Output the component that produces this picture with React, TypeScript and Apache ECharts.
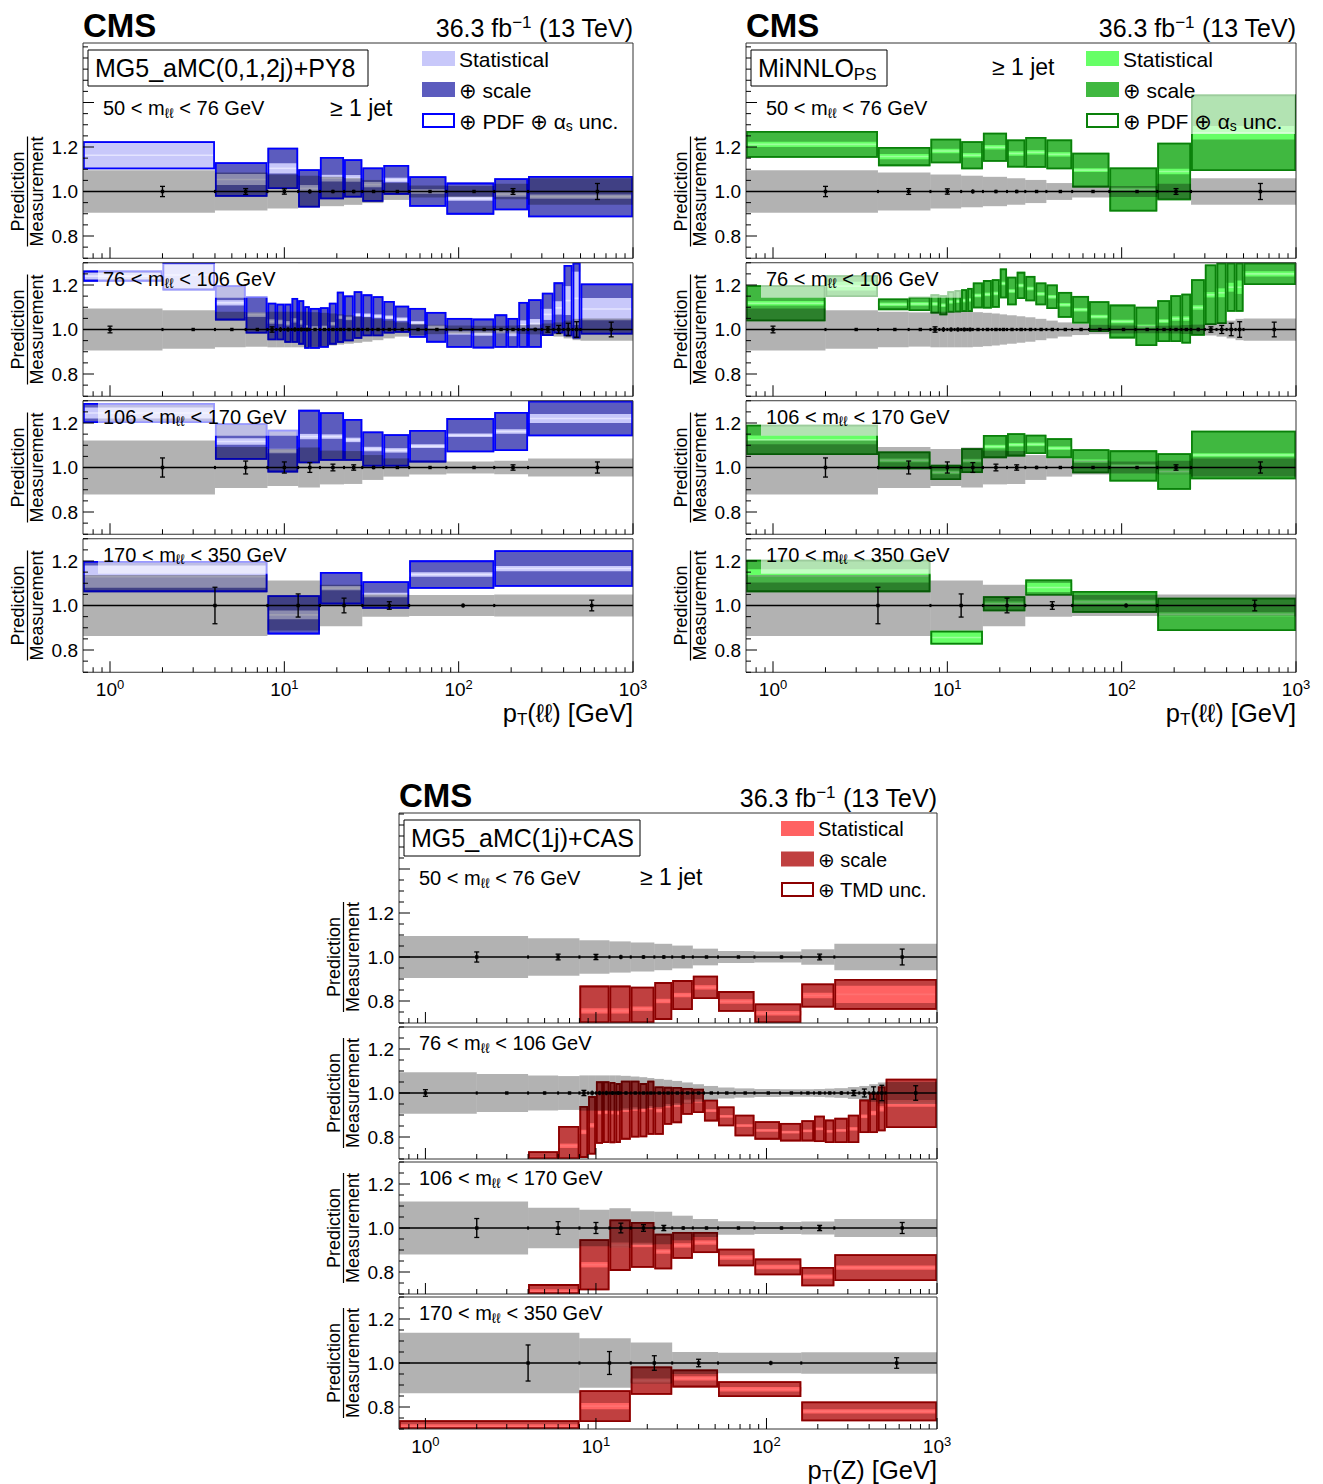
import React, { useEffect, useRef } from "react";
import * as echarts from "echarts";

const XMIN = 0.7;
const XMAX = 1000;
const YMIN = 0.7;

// ---------- bin edges (GeV) per mass window ----------
const edgesM1 = [0, 4, 8, 12, 16, 22, 28, 37, 52, 85, 160, 250, 1000];
const edgesM2 = [0, 2, 4, 6, 8, 9, 10, 11, 12, 13, 14, 16, 18, 20, 22, 25, 28, 32, 37, 43, 52, 65, 85, 120, 160, 190, 220, 250, 300, 350, 400, 450, 500, 1000];
const edgesM3 = [0, 4, 8, 12, 16, 22, 28, 37, 52, 85, 160, 250, 1000];
const edgesM4 = [0, 8, 16, 28, 52, 160, 1000];

// ---------- measurement: total uncertainty (grey band) and data error bar ----------
const measUncM1 = [0.095, 0.085, 0.076, 0.071, 0.066, 0.060, 0.052, 0.038, 0.027, 0.025, 0.035, 0.060];
const dataErrM1 = [0.023, 0.013, 0.012, 0.010, 0.008, 0.008, 0.006, 0.005, 0.004, 0.006, 0.013, 0.036];
const measUncM2 = [0.094, 0.086, 0.080, 0.077, 0.080, 0.080, 0.080, 0.080, 0.080, 0.080, 0.078, 0.075, 0.072, 0.068, 0.064, 0.060, 0.055, 0.048, 0.040, 0.032, 0.025, 0.021, 0.018, 0.017, 0.017, 0.018, 0.020, 0.022, 0.027, 0.032, 0.040, 0.048, 0.050];
const dataErrM2 = [0.015, 0.005, 0.006, 0.005, 0.012, 0.011, 0.010, 0.010, 0.009, 0.009, 0.007, 0.006, 0.005, 0.005, 0.004, 0.004, 0.004, 0.003, 0.003, 0.003, 0.003, 0.003, 0.003, 0.003, 0.004, 0.005, 0.006, 0.008, 0.012, 0.018, 0.028, 0.035, 0.033];
const measUncM3 = [0.121, 0.092, 0.083, 0.090, 0.076, 0.074, 0.056, 0.041, 0.031, 0.027, 0.030, 0.041];
const dataErrM3 = [0.043, 0.029, 0.025, 0.022, 0.015, 0.012, 0.008, 0.006, 0.005, 0.006, 0.012, 0.025];
const measUncM4 = [0.137, 0.112, 0.093, 0.050, 0.047, 0.049];
const dataErrM4 = [0.082, 0.052, 0.033, 0.017, 0.010, 0.024];

// ---------- MG5_aMC(0,1,2j)+PY8 : central, stat, total half-width ----------
const mgCentM1 = [1.163, 1.054, 1.104, 1.014, 1.060, 1.059, 1.031, 1.052, 1.000, 0.968, 0.988, 0.977];
const mgStatM1 = [0.060, 0.025, 0.023, 0.015, 0.015, 0.015, 0.012, 0.010, 0.010, 0.010, 0.012, 0.010];
const mgTotM1 = [0.063, 0.078, 0.093, 0.086, 0.095, 0.086, 0.077, 0.067, 0.069, 0.072, 0.072, 0.093];
const mgCentM2 = [1.240, 1.245, 1.120, 1.066, 1.036, 1.034, 1.028, 1.041, 1.032, 1.009, 1.005, 1.009, 1.026, 1.055, 1.050, 1.065, 1.064, 1.060, 1.055, 1.046, 1.030, 1.010, 0.985, 0.982, 0.993, 0.985, 1.021, 1.027, 1.068, 1.097, 1.130, 1.140, 1.092];
const mgStatM2 = [0.015, 0.060, 0.012, 0.010, 0.010, 0.010, 0.010, 0.010, 0.010, 0.010, 0.010, 0.008, 0.008, 0.008, 0.008, 0.008, 0.008, 0.008, 0.008, 0.008, 0.008, 0.008, 0.008, 0.010, 0.010, 0.015, 0.020, 0.020, 0.025, 0.030, 0.065, 0.120, 0.050];
const mgTotM2 = [0.025, 0.070, 0.079, 0.084, 0.084, 0.082, 0.088, 0.101, 0.100, 0.096, 0.092, 0.091, 0.094, 0.115, 0.103, 0.107, 0.094, 0.090, 0.073, 0.061, 0.067, 0.069, 0.067, 0.067, 0.075, 0.067, 0.103, 0.109, 0.097, 0.115, 0.160, 0.180, 0.115];
const mgCentM3 = [1.245, 1.117, 1.074, 1.139, 1.139, 1.124, 1.083, 1.077, 1.096, 1.145, 1.162, 1.220];
const mgStatM3 = [0.025, 0.015, 0.010, 0.012, 0.010, 0.010, 0.010, 0.010, 0.008, 0.008, 0.010, 0.020];
const mgTotM3 = [0.045, 0.082, 0.096, 0.120, 0.109, 0.094, 0.079, 0.073, 0.073, 0.077, 0.088, 0.080];
const mgCentM4 = [1.130, 0.958, 1.078, 1.047, 1.139, 1.166];
const mgStatM4 = [0.050, 0.020, 0.010, 0.010, 0.010, 0.012];
const mgTotM4 = [0.070, 0.088, 0.073, 0.062, 0.064, 0.082];

// ---------- MiNNLO_PS ----------
const miCentM1 = [1.212, 1.157, 1.182, 1.163, 1.199, 1.171, 1.176, 1.167, 1.096, 1.009, 1.090, 1.264];
const miStatM1 = [0.012, 0.012, 0.010, 0.010, 0.010, 0.010, 0.010, 0.010, 0.008, 0.008, 0.012, 0.030];
const miTotM1 = [0.060, 0.043, 0.055, 0.063, 0.065, 0.063, 0.069, 0.067, 0.078, 0.099, 0.129, 0.172];
const miCentM2 = [1.118, 1.195, 1.113, 1.115, 1.115, 1.109, 1.124, 1.127, 1.130, 1.133, 1.153, 1.158, 1.162, 1.207, 1.173, 1.198, 1.184, 1.160, 1.147, 1.111, 1.089, 1.058, 1.036, 1.014, 1.038, 1.049, 1.049, 1.099, 1.156, 1.165, 1.190, 1.190, 1.250];
const miStatM2 = [0.010, 0.020, 0.008, 0.008, 0.008, 0.008, 0.008, 0.008, 0.008, 0.008, 0.008, 0.008, 0.008, 0.008, 0.008, 0.008, 0.008, 0.008, 0.008, 0.008, 0.008, 0.008, 0.008, 0.008, 0.008, 0.010, 0.010, 0.010, 0.012, 0.020, 0.020, 0.030, 0.012];
const miTotM2 = [0.081, 0.049, 0.026, 0.032, 0.043, 0.045, 0.048, 0.050, 0.051, 0.054, 0.058, 0.064, 0.064, 0.067, 0.064, 0.061, 0.057, 0.051, 0.055, 0.058, 0.062, 0.069, 0.076, 0.088, 0.094, 0.105, 0.112, 0.127, 0.136, 0.140, 0.110, 0.110, 0.050];
const miCentM3 = [1.124, 1.032, 0.978, 1.031, 1.094, 1.102, 1.104, 1.087, 1.028, 1.007, 0.982, 1.056];
const miStatM3 = [0.020, 0.008, 0.008, 0.008, 0.008, 0.008, 0.008, 0.008, 0.008, 0.008, 0.010, 0.008];
const miTotM3 = [0.068, 0.040, 0.034, 0.056, 0.052, 0.052, 0.043, 0.045, 0.054, 0.070, 0.082, 0.109];
const miCentM4 = [1.133, 0.856, 1.008, 1.081, 1.016, 0.960];
const miStatM4 = [0.030, 0.030, 0.010, 0.020, 0.010, 0.010];
const miTotM4 = [0.073, 0.031, 0.034, 0.036, 0.049, 0.075];

// ---------- MG5_aMC(1j)+CAS ----------
const casCentM1 = [0.550, 0.600, 0.755, 0.755, 0.765, 0.800, 0.827, 0.862, 0.798, 0.744, 0.825, 0.830];
const casStatM1 = [0.012, 0.012, 0.012, 0.012, 0.010, 0.010, 0.010, 0.010, 0.010, 0.010, 0.012, 0.039];
const casTotM1 = [0.050, 0.050, 0.115, 0.115, 0.100, 0.086, 0.068, 0.053, 0.047, 0.045, 0.055, 0.070];
const casCentM2 = [0.500, 0.500, 0.700, 0.760, 0.823, 0.853, 0.911, 0.913, 0.911, 0.909, 0.922, 0.927, 0.922, 0.933, 0.920, 0.942, 0.945, 0.962, 0.964, 0.920, 0.894, 0.852, 0.830, 0.822, 0.828, 0.837, 0.826, 0.830, 0.837, 0.894, 0.909, 0.928, 0.953];
const casStatM2 = [0.010, 0.010, 0.010, 0.010, 0.010, 0.010, 0.008, 0.008, 0.008, 0.008, 0.008, 0.008, 0.008, 0.008, 0.008, 0.008, 0.008, 0.008, 0.008, 0.006, 0.006, 0.006, 0.006, 0.006, 0.006, 0.006, 0.006, 0.006, 0.008, 0.008, 0.010, 0.012, 0.015];
const casTotM2 = [0.050, 0.050, 0.035, 0.090, 0.118, 0.133, 0.142, 0.140, 0.139, 0.136, 0.134, 0.129, 0.123, 0.123, 0.110, 0.086, 0.082, 0.061, 0.055, 0.049, 0.045, 0.049, 0.042, 0.042, 0.048, 0.060, 0.053, 0.057, 0.064, 0.076, 0.091, 0.102, 0.112];
const casCentM3 = [0.500, 0.710, 0.833, 0.922, 0.923, 0.893, 0.921, 0.934, 0.866, 0.823, 0.779, 0.820];
const casStatM3 = [0.012, 0.012, 0.012, 0.012, 0.010, 0.010, 0.010, 0.010, 0.010, 0.010, 0.010, 0.010];
const casTotM3 = [0.050, 0.035, 0.116, 0.117, 0.104, 0.081, 0.061, 0.048, 0.040, 0.038, 0.044, 0.061];
const casCentM4 = [0.710, 0.804, 0.920, 0.930, 0.881, 0.780];
const casStatM4 = [0.012, 0.014, 0.010, 0.010, 0.010, 0.010];
const casTotM4 = [0.030, 0.072, 0.064, 0.041, 0.036, 0.045];

const massLabels = ["50 < m", "76 < m", "106 < m", "170 < m"];
const massLabelsHi = [" < 76 GeV", " < 106 GeV", " < 170 GeV", " < 350 GeV"];

const EDGES = [edgesM1, edgesM2, edgesM3, edgesM4];
const MEAS = [measUncM1, measUncM2, measUncM3, measUncM4];
const DERR = [dataErrM1, dataErrM2, dataErrM3, dataErrM4];

const GENS = [
  {
    label: "{n|MG5_aMC(0,1,2j)+PY8}", boxW: 280,
    cent: [mgCentM1, mgCentM2, mgCentM3, mgCentM4], stat: [mgStatM1, mgStatM2, mgStatM3, mgStatM4], tot: [mgTotM1, mgTotM2, mgTotM3, mgTotM4],
    col: { stat: "#c8c8fa", scale: "#5c5cbe", edge: "#0000ff", line: "#e4e4ff" },
    leg3: "{n|⊕ PDF ⊕ α}{b|s}{n| unc.}",
  },
  {
    label: "{n|MiNNLO}{b|PS}", boxW: 136,
    cent: [miCentM1, miCentM2, miCentM3, miCentM4], stat: [miStatM1, miStatM2, miStatM3, miStatM4], tot: [miTotM1, miTotM2, miTotM3, miTotM4],
    col: { stat: "#66ff66", scale: "#40b840", edge: "#0a800a", line: "#9cff9c" },
    leg3: "{n|⊕ PDF ⊕ α}{b|s}{n| unc.}",
  },
  {
    label: "{n|MG5_aMC(1j)+CAS}", boxW: 236,
    cent: [casCentM1, casCentM2, casCentM3, casCentM4], stat: [casStatM1, casStatM2, casStatM3, casStatM4], tot: [casTotM1, casTotM2, casTotM3, casTotM4],
    col: { stat: "#ff6262", scale: "#c04040", edge: "#8b0000", line: "#ff7070" },
    leg3: "{n|⊕ TMD unc.}",
  },
];

const PANELS = [
  { left: 83, width: 550, top1: 43, bottoms: [258.25, 396.25, 534.25, 672.25], ppu: 222.5, legX: 422, legDy: 31, legFs: 21, jetX: 330, jetY: 108, xTitle: "{n|p}{b|T}{n|(ℓℓ) [GeV]}" },
  { left: 746, width: 550, top1: 43, bottoms: [258.25, 396.25, 534.25, 672.25], ppu: 222.5, legX: 1086, legDy: 31, legFs: 21, jetX: 992, jetY: 67, xTitle: "{n|p}{b|T}{n|(ℓℓ) [GeV]}" },
  { left: 399, width: 538, top1: 813, bottoms: [1023, 1159, 1294, 1429], ppu: 220, legX: 781, legDy: 30.5, legFs: 20, jetX: 640, jetY: 877, xTitle: "{n|p}{b|T}{n|(Z) [GeV]}" },
];

const FF = "'Liberation Sans', Arial, Helvetica, 'DejaVu Sans', sans-serif";

function rich(size: number) {
  const s = Math.round(size * 0.68);
  return {
    n: { fontSize: size, fontFamily: FF, lineHeight: Math.round(size * 1.15), verticalAlign: "middle", fill: "#000", color: "#000" },
    b: { fontSize: s, fontFamily: FF, lineHeight: Math.round(size * 0.6), verticalAlign: "bottom", fill: "#000", color: "#000" },
    p: { fontSize: s, fontFamily: FF, lineHeight: Math.round(size * 0.6), verticalAlign: "top", fill: "#000", color: "#000" },
  };
}

function T(x: number, y: number, text: string, size: number, o: any = {}) {
  return {
    type: "text", x, y, z: 101, rotation: o.rot || 0, silent: true,
    style: {
      text, fontSize: size, fontFamily: FF, fontWeight: o.bold ? "bold" : "normal",
      fill: "#000", textAlign: o.align || "left", verticalAlign: "middle", textVerticalAlign: "middle",
      rich: o.rich ? rich(size) : undefined,
    },
  };
}

function clipBox(cs: any) {
  return { x: cs.x, y: cs.y, width: cs.width, height: cs.height };
}

function renderPred(col: any) {
  return (params: any, api: any) => {
    const cs = params.coordSys;
    const box = clipBox(cs);
    const lo = Math.max(api.value(0), XMIN);
    const hi = api.value(1);
    const c = api.value(2), s = api.value(3), t = api.value(4);
    const rr = (a: number, b: number) => {
      const p1 = api.coord([lo, b]);
      const p2 = api.coord([hi, a]);
      return echarts.graphic.clipRectByRect({ x: p1[0], y: p1[1], width: p2[0] - p1[0], height: p2[1] - p1[1] }, box);
    };
    const ch: any[] = [];
    const tr: any = rr(c - t, c + t);
    if (!tr || tr.height < 0.5) return { type: "group", children: [] };
    ch.push({ type: "rect", shape: tr, style: { fill: col.scale } });
    const sr: any = rr(c - s, c + s);
    if (sr && sr.height > 0) ch.push({ type: "rect", shape: sr, style: { fill: col.stat } });
    const yc = api.coord([lo, c])[1];
    if (yc > cs.y + 1 && yc < cs.y + cs.height - 1) {
      ch.push({ type: "line", shape: { x1: tr.x + 1, y1: yc, x2: tr.x + tr.width - 1, y2: yc }, style: { stroke: col.line, lineWidth: 1.6 } });
    }
    ch.push({ type: "rect", shape: { x: tr.x + 0.9, y: tr.y + 0.9, width: Math.max(tr.width - 1.8, 0), height: Math.max(tr.height - 1.8, 0) }, style: { fill: "none", stroke: col.edge, lineWidth: 1.8 } });
    return { type: "group", children: ch };
  };
}

function renderMeas(params: any, api: any) {
  const cs = params.coordSys;
  const lo = Math.max(api.value(0), XMIN), hi = api.value(1), u = api.value(4);
  const p1 = api.coord([lo, 1 + u]);
  const p2 = api.coord([hi, 1 - u]);
  const r = echarts.graphic.clipRectByRect({ x: p1[0], y: p1[1], width: p2[0] - p1[0], height: p2[1] - p1[1] }, clipBox(cs));
  if (!r) return { type: "group", children: [] };
  return { type: "rect", shape: r, style: { fill: "rgba(0,0,0,0.3)" } };
}

function renderData(params: any, api: any) {
  const lo = api.value(0), xc = api.value(2), e = api.value(5);
  const pc = api.coord([xc, 1]);
  const pt = api.coord([xc, 1 + e]);
  const pb = api.coord([xc, 1 - e]);
  const ch: any[] = [
    { type: "line", shape: { x1: pc[0], y1: pt[1], x2: pc[0], y2: pb[1] }, style: { stroke: "#000", lineWidth: 1.4 } },
    { type: "rect", shape: { x: pc[0] - 1.7, y: pc[1] - 1.7, width: 3.4, height: 3.4 }, style: { fill: "#000" } },
  ];
  if (pb[1] - pt[1] > 5) {
    ch.push({ type: "line", shape: { x1: pc[0] - 2.5, y1: pt[1], x2: pc[0] + 2.5, y2: pt[1] }, style: { stroke: "#000", lineWidth: 1.3 } });
    ch.push({ type: "line", shape: { x1: pc[0] - 2.5, y1: pb[1], x2: pc[0] + 2.5, y2: pb[1] }, style: { stroke: "#000", lineWidth: 1.3 } });
  }
  if (lo > 0) {
    const pe = api.coord([lo, 1]);
    ch.push({ type: "rect", shape: { x: pe[0] - 1, y: pe[1] - 1.6, width: 2, height: 3.2 }, style: { fill: "#000" } });
  }
  return { type: "group", children: ch };
}

function renderTicks(params: any, api: any) {
  const cs = params.coordSys;
  const kind = api.value(0);
  if (kind === 0) {
    const y1 = api.coord([1, 1])[1];
    return {
      type: "group", children: [
        { type: "line", shape: { x1: cs.x, y1, x2: cs.x + cs.width, y2: y1 }, style: { stroke: "#000", lineWidth: 1.3 } },
        { type: "rect", shape: { x: cs.x, y: cs.y, width: cs.width, height: cs.height }, style: { fill: "none", stroke: "#333", lineWidth: 1 } },
      ],
    };
  }
  if (kind === 1 || kind === 2) {
    const y = api.coord([1, api.value(2)])[1];
    const len = kind === 2 ? 11 : 5;
    return { type: "line", shape: { x1: cs.x, y1: y, x2: cs.x + len, y2: y }, style: { stroke: "#000", lineWidth: 1 } };
  }
  const x = api.coord([api.value(1), 1])[0];
  const len = kind === 4 ? 11 : 5;
  const b = cs.y + cs.height;
  return { type: "line", shape: { x1: x, y1: b, x2: x, y2: b - len }, style: { stroke: "#000", lineWidth: 1 } };
}

function buildOption() {
  const grid: any[] = [], xAxis: any[] = [], yAxis: any[] = [], series: any[] = [], els: any[] = [];

  PANELS.forEach((p, pi) => {
    const g = GENS[pi];
    const L = p.left, R = p.left + p.width, T0 = p.top1;

    for (let m = 0; m < 4; m++) {
      const gi = grid.length;
      const bottom = p.bottoms[m];
      const top = m === 0 ? T0 : bottom - 0.6 * p.ppu;
      const ymax = m === 0 ? YMIN + (bottom - T0) / p.ppu : 1.3;
      grid.push({ left: L, top, width: p.width, height: bottom - top });
      xAxis.push({
        type: "log", logBase: 10, min: XMIN, max: XMAX, gridIndex: gi,
        axisLine: { show: false }, axisTick: { show: false }, splitLine: { show: false },
        axisLabel: {
          show: m === 3, margin: 6, color: "#000",
          formatter: (v: number) => {
            const l = Math.log10(v);
            const e = Math.round(l);
            return Math.abs(l - e) < 1e-6 ? `{b|10}{s|${e}}` : "";
          },
          rich: {
            b: { fontSize: 19, fontFamily: FF, color: "#000", lineHeight: 22, verticalAlign: "middle" },
            s: { fontSize: 13, fontFamily: FF, color: "#000", lineHeight: 12, verticalAlign: "top" },
          },
        },
      });
      yAxis.push({
        type: "value", min: YMIN, max: ymax, interval: 0.05, gridIndex: gi,
        axisLine: { show: false }, axisTick: { show: false }, splitLine: { show: false },
        axisLabel: {
          margin: 5, fontSize: 19, fontFamily: FF, color: "#000",
          formatter: (v: number) => {
            const r = Math.round(v * 100) / 100;
            return r === 0.8 || r === 1 || r === 1.2 ? r.toFixed(1) : "";
          },
        },
      });

      const edges = EDGES[m];
      const predData = g.cent[m].map((c, i) => [edges[i], edges[i + 1], c, g.stat[m][i], g.tot[m][i]]);
      const measData = MEAS[m].map((u, i) => [edges[i], edges[i + 1], (edges[i] + edges[i + 1]) / 2, 1, u, DERR[m][i]]);
      const tickData: number[][] = [[0, 1, 1]];
      for (let k = 14; k * 0.05 <= ymax + 1e-9; k++) {
        const v = Math.round(k * 5) / 100;
        const major = Math.abs(v * 5 - Math.round(v * 5)) < 1e-6;
        tickData.push([major ? 2 : 1, 1, v]);
      }
      for (let d = -1; d <= 3; d++) {
        for (let k = 1; k <= 9; k++) {
          const v = k * Math.pow(10, d);
          if (v > XMIN * 1.0001 && v < XMAX * 1.0001) tickData.push([k === 1 ? 4 : 3, v, 1]);
        }
      }

      series.push({ type: "custom", xAxisIndex: gi, yAxisIndex: gi, z: 2, silent: true, renderItem: renderPred(g.col), data: predData, encode: { x: 1, y: 2 } });
      series.push({ type: "custom", xAxisIndex: gi, yAxisIndex: gi, z: 3, silent: true, renderItem: renderMeas, data: measData, encode: { x: 2, y: 3 } });
      series.push({ type: "custom", xAxisIndex: gi, yAxisIndex: gi, z: 4, silent: true, renderItem: renderData, data: measData, encode: { x: 2, y: 3 } });
      series.push({ type: "custom", xAxisIndex: gi, yAxisIndex: gi, z: 5, silent: true, renderItem: renderTicks, data: tickData, encode: { x: 1, y: 2 } });

      // y-axis title (fraction)
      const yc = bottom - 0.3 * p.ppu;
      els.push(T(L - 65, yc, "Prediction", 18, { rot: Math.PI / 2, align: "center" }));
      els.push(T(L - 46, yc, "Measurement", 18, { rot: Math.PI / 2, align: "center" }));
      els.push({ type: "line", z: 101, silent: true, shape: { x1: L - 55.5, y1: yc - 55, x2: L - 55.5, y2: yc + 55 }, style: { stroke: "#000", lineWidth: 1.2 } });

      const mlab = `{n|${massLabels[m]}}{b|ℓℓ}{n|${massLabelsHi[m]}}`;
      if (m === 0) {
        els.push(T(L + 20, T0 + 65, mlab, 20, { rich: true }));
      } else {
        els.push({ type: "rect", z: 100, silent: true, shape: { x: L + 15, y: top + 1, width: 200, height: 34 }, style: { fill: "rgba(255,255,255,0.6)" } });
        els.push(T(L + 20, top + 16, mlab, 20, { rich: true }));
      }
    }

    // header
    els.push(T(L, T0 - 18, "CMS", 33, { bold: true }));
    els.push(T(R, T0 - 15, "{n|36.3 fb}{p|−1}{n| (13 TeV)}", 25, { align: "right", rich: true }));
    // model box
    els.push({ type: "rect", z: 101, silent: true, shape: { x: L + 5, y: T0 + 7, width: g.boxW, height: 36 }, style: { fill: "#fff", stroke: "#000", lineWidth: 1 } });
    els.push(T(L + 12, T0 + 25, g.label, 25, { rich: true }));
    els.push(T(p.jetX, p.jetY, "≥ 1 jet", 23));
    // legend
    els.push({ type: "rect", z: 100, silent: true, shape: { x: p.legX - 4, y: T0 + 1, width: R - p.legX + 3, height: 90 }, style: { fill: "rgba(255,255,255,0.6)" } });
    const legTxt = ["{n|Statistical}", "{n|⊕ scale}", g.leg3];
    for (let k = 0; k < 3; k++) {
      const yb = T0 + 8 + k * p.legDy;
      els.push({
        type: "rect", z: 101, silent: true, shape: { x: p.legX + (k === 2 ? 1 : 0), y: yb + (k === 2 ? 1 : 0), width: 33 - (k === 2 ? 2 : 0), height: 15 - (k === 2 ? 2 : 0) },
        style: k === 0 ? { fill: g.col.stat } : k === 1 ? { fill: g.col.scale } : { fill: "#fff", stroke: g.col.edge, lineWidth: 2 },
      });
      els.push(T(p.legX + 37, yb + 8, legTxt[k], p.legFs, { rich: true }));
    }
    // x title
    els.push(T(R, p.bottoms[3] + 41, p.xTitle, 25.5, { align: "right", rich: true }));
  });

  return {
    animation: false,
    backgroundColor: "#fff",
    grid, xAxis, yAxis, series,
    graphic: { elements: els },
  };
}

export default function App() {
  const ref = useRef<HTMLDivElement>(null);
  useEffect(() => {
    if (!ref.current) return;
    const chart = echarts.init(ref.current, undefined, { renderer: "svg" });
    chart.setOption(buildOption() as any);
    return () => chart.dispose();
  }, []);
  return <div ref={ref} style={{ position: "absolute", left: 0, top: 0, width: 1323, height: 1484 }} />;
}
